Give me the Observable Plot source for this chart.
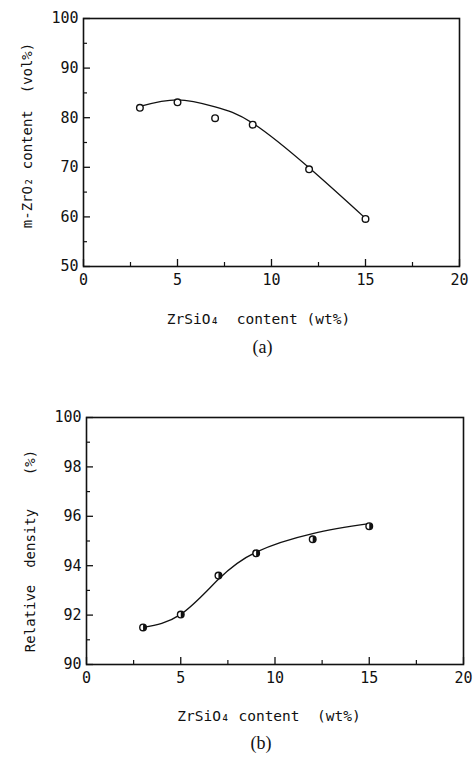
<!DOCTYPE html>
<html>
<head>
<meta charset="utf-8">
<script src="https://cdn.jsdelivr.net/npm/d3@7"></script>
<script src="https://cdn.jsdelivr.net/npm/@observablehq/plot@0.6"></script>
<style>
  html, body { margin: 0; padding: 0; background: #fff; }
  #wrap { width: 474px; }
  svg { display: block; }
  svg text { white-space: pre; }
</style>
</head>
<body>
<div id="wrap"></div>
<script>
// ---- Panel (a) data ----
const zrsio4 = [3, 5, 7, 9, 12, 15];
const mZrO2 = [82.0, 83.1, 79.9, 78.6, 69.6, 59.6];
const curveAx = [3, 5, 7, 9, 12, 15];
const curveAy = [82.3, 83.6, 82.2, 78.9, 69.9, 59.7];

// ---- Panel (b) data ----
const density = [91.5, 92.02, 93.6, 94.5, 95.07, 95.6];
const curveBx = [3, 5, 7, 9, 12, 15];
const curveBy = [91.5, 92.03, 93.45, 94.55, 95.3, 95.7];

// ---- Tick values ----
const xMajor = [0, 5, 10, 15, 20];
const xMinor = [2.5, 7.5, 12.5, 17.5];
const yMajorA = [50, 60, 70, 80, 90, 100];
const yMinorA = [55, 65, 75, 85, 95];
const yMajorB = [90, 92, 94, 96, 98, 100];
const yMinorB = [91, 93, 95, 97, 99];

const xLabelA = "ZrSiO\u2084  content (wt%)";
const yLabelA = "m-ZrO\u2082 content  (vol%)";
const xLabelB = "ZrSiO\u2084 content  (wt%)";
const yLabelB = "Relative  density    (%)";

const mono = "'DejaVu Sans Mono', monospace";

const rightHalf = {
  draw(context, size) {
    const r = Math.sqrt(size / Math.PI);
    context.moveTo(0, -r);
    context.arc(0, 0, r, -Math.PI / 2, Math.PI / 2);
    context.closePath();
  }
};

function panel({xs, ys, cx, cy, yDomain, yMajor, yMinor, xLabel, yLabel, tag,
                mt, mb, ml, mr, yLabelDy, xLabelDx, xLabelDy, tagDx, tagDy, half}) {
  const marks = [
    Plot.frame({stroke: "#111", strokeWidth: 1.6}),
    Plot.axisX({ticks: xMajor, tickSize: -7, tickFormat: () => "", label: null, strokeWidth: 1.3}),
    Plot.axisX({ticks: xMinor, tickSize: -4, tickFormat: () => "", label: null, strokeWidth: 1.2}),
    Plot.axisX({ticks: xMajor, tickSize: 0, tickPadding: 8, label: null, fontSize: 15, tickFormat: d => String(d), fill: "#111"}),
    Plot.axisY({ticks: yMajor, tickSize: -7, tickFormat: () => "", label: null, strokeWidth: 1.3}),
    Plot.axisY({ticks: yMinor, tickSize: -4, tickFormat: () => "", label: null, strokeWidth: 1.2}),
    Plot.axisY({ticks: yMajor, tickSize: 0, tickPadding: 5, label: null, fontSize: 15, tickFormat: d => String(d), fill: "#111"}),
    Plot.line(cx.map((x, i) => ({x, y: cy[i]})), {x: "x", y: "y", curve: "natural", stroke: "#111", strokeWidth: 1.3}),
    Plot.dot(xs.map((x, i) => ({x, y: ys[i]})), {x: "x", y: "y", r: 3.3, fill: "white", stroke: "#111", strokeWidth: 1.4}),
    Plot.text([xLabel], {frameAnchor: "bottom", dx: xLabelDx, dy: xLabelDy, text: d => d, fontSize: 14.5, fontFamily: mono, fill: "#111"}),
    Plot.text([yLabel], {frameAnchor: "left", textAnchor: "middle", dx: -56, dy: yLabelDy, rotate: -90, text: d => d, fontSize: 14, fontFamily: mono, fill: "#111"}),
    Plot.text([tag], {frameAnchor: "bottom", dy: tagDy, dx: tagDx, text: d => d, fontSize: 18, fontFamily: "'Liberation Serif', 'DejaVu Serif', serif", fill: "#111"})
  ];
  if (half) {
    marks.push(Plot.dot(xs.map((x, i) => ({x, y: ys[i]})), {x: "x", y: "y", r: 3.3, symbol: rightHalf, fill: "#111", stroke: "none"}));
  }
  return Plot.plot({
    width: 474,
    height: 380,
    marginTop: mt,
    marginBottom: mb,
    marginLeft: ml,
    marginRight: mr,
    x: {domain: [0, 20], label: null},
    y: {domain: yDomain, label: null},
    style: {fontFamily: mono, fontSize: "14px", color: "#111", background: "white"},
    marks
  });
}

const wrap = document.getElementById("wrap");
wrap.appendChild(panel({
  xs: zrsio4, ys: mZrO2, cx: curveAx, cy: curveAy,
  yDomain: [50, 100], yMajor: yMajorA, yMinor: yMinorA,
  xLabel: xLabelA, yLabel: yLabelA, tag: "(a)",
  mt: 18, mb: 114, ml: 83, mr: 15,
  yLabelDy: -7, xLabelDx: -13, xLabelDy: 57, tagDx: -9, tagDy: 86, half: false
}));
wrap.appendChild(panel({
  xs: zrsio4, ys: density, cx: curveBx, cy: curveBy,
  yDomain: [90, 100], yMajor: yMajorB, yMinor: yMinorB,
  xLabel: xLabelB, yLabel: yLabelB, tag: "(b)",
  mt: 37, mb: 96, ml: 86, mr: 11,
  yLabelDy: 10, xLabelDx: -6, xLabelDy: 56, tagDx: -14, tagDy: 84, half: true
}));
</script>
</body>
</html>
